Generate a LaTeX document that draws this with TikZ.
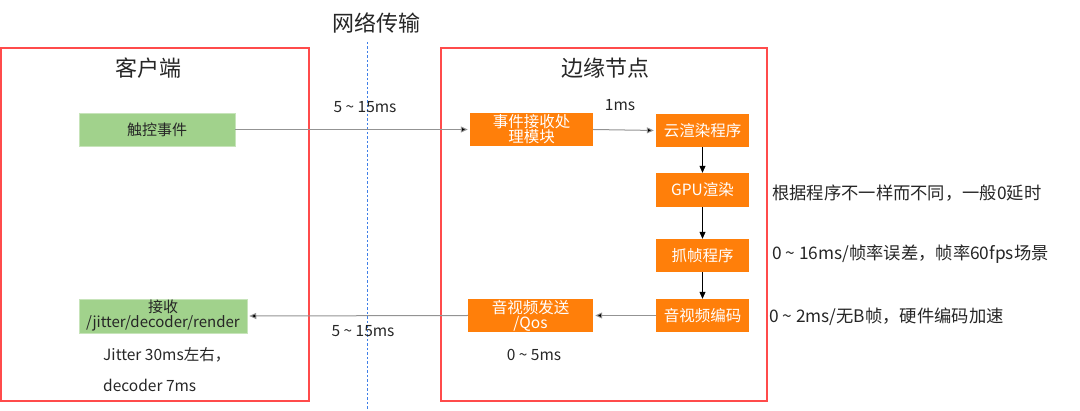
\documentclass[tikz,border=0pt]{standalone}
\usepackage{fontspec}
\setmainfont{Noto Sans CJK SC}
\usetikzlibrary{arrows.meta}
\definecolor{gfill}{HTML}{A1D28C}
\definecolor{ofill}{HTML}{FF7F0A}
\definecolor{rline}{HTML}{FF4B4B}
\definecolor{bline}{HTML}{3F7FE8}
\definecolor{txt}{HTML}{262626}
\tikzset{
  redbox/.style={draw=rline, line width=1.3pt, inner sep=0, minimum width=#1},
  gbox/.style={fill=gfill, draw=gfill!60!white, line width=0.5pt, inner sep=0, minimum height=33, text=txt, font=\fontsize{15}{16}\selectfont, align=center},
  obox/.style={fill=ofill, inner sep=0, minimum height=33, minimum width=93, text=white, font=\fontsize{15.5}{16}\selectfont, align=center},
  title/.style={text=txt, font=\fontsize{22}{26}\selectfont},
  lbl/.style={text=txt, font=\fontsize{15.5}{18}\selectfont, inner sep=0},
  note/.style={text=txt, font=\fontsize{17.3}{19}\selectfont, inner sep=0, anchor=west},
  garrow/.style={draw=gray!85, line width=1pt, -{Triangle[length=7pt,width=6pt,fill=black]}, shorten >=2pt},
  varrow/.style={draw=black, line width=0.7pt, -{Triangle[length=7pt,width=6pt]}},
}
\begin{document}
\begin{tikzpicture}[x=1pt,y=-1pt]
\useasboundingbox (0,0) rectangle (1080,411);
% containers
\node[redbox=308, minimum height=353] (client) at (155,224.5) {};
\node[redbox=326, minimum height=353] (edge) at (604,224.5) {};
% network divider
\coordinate (nt) at (367,42);
\coordinate (nb) at (367,411);
\draw[draw=bline, line width=0.9pt, dash pattern=on 2.5pt off 2pt] (nt) -- (nb);
% titles
\node[title] (tnet) at (376,23) {网络传输};
\node[title] (tcli) at (148,68) {客户端};
\node[title] (tedge) at (605,68) {边缘节点};
% client nodes
\node[gbox, minimum width=156] (touch) at (157,129.5) {触控事件};
\node[gbox, minimum width=168, minimum height=34] (recvc) at (163,316) {接收\\[-1pt]/jitter/decoder/render};
% edge nodes
\node[obox, minimum width=123] (evt) at (531.5,129.5) {事件接收处\\[-1pt]理模块};
\node[obox] (cloud) at (702.5,130.5) {云渲染程序};
\node[obox, minimum height=34] (gpu) at (702.5,190) {GPU渲染};
\node[obox] (grab) at (702.5,255.5) {抓帧程序};
\node[obox] (enc) at (702.5,315.5) {音视频编码};
\node[obox, minimum width=125] (send) at (530.5,315.5) {音视频发送\\[-1pt]/Qos};
% connectors
\draw[garrow] (touch.east) -- (evt.west);
\draw[garrow] (evt.east) -- (cloud.west);
\draw[varrow] (cloud.south) -- (gpu.north);
\draw[varrow] (gpu.south) -- (grab.north);
\draw[varrow] (grab.south) -- (enc.north);
\draw[garrow] (enc.west) -- (send.east);
\draw[garrow] (send.west) -- (recvc.east);
% labels
\node[lbl] (l1) at (365,107) {5 \textasciitilde{} 15ms};
\node[lbl] (l2) at (620,105) {1ms};
\node[lbl] (l3) at (363,331) {5 \textasciitilde{} 15ms};
\node[lbl] (l4) at (534,355) {0 \textasciitilde{} 5ms};
\node[lbl, anchor=west] (j1) at (103,355) {Jitter 30ms左右，};
\node[lbl, anchor=west] (j2) at (103,385) {decoder 7ms};
% notes
\node[note] (n1) at (772,193) {根据程序不一样而不同，一般0延时};
\node[note] (n2) at (772,254) {0 \textasciitilde{} 16ms/帧率误差，帧率60fps场景};
\node[note] (n3) at (769,317) {0 \textasciitilde{} 2ms/无B帧，硬件编码加速};
\end{tikzpicture}
\end{document}
